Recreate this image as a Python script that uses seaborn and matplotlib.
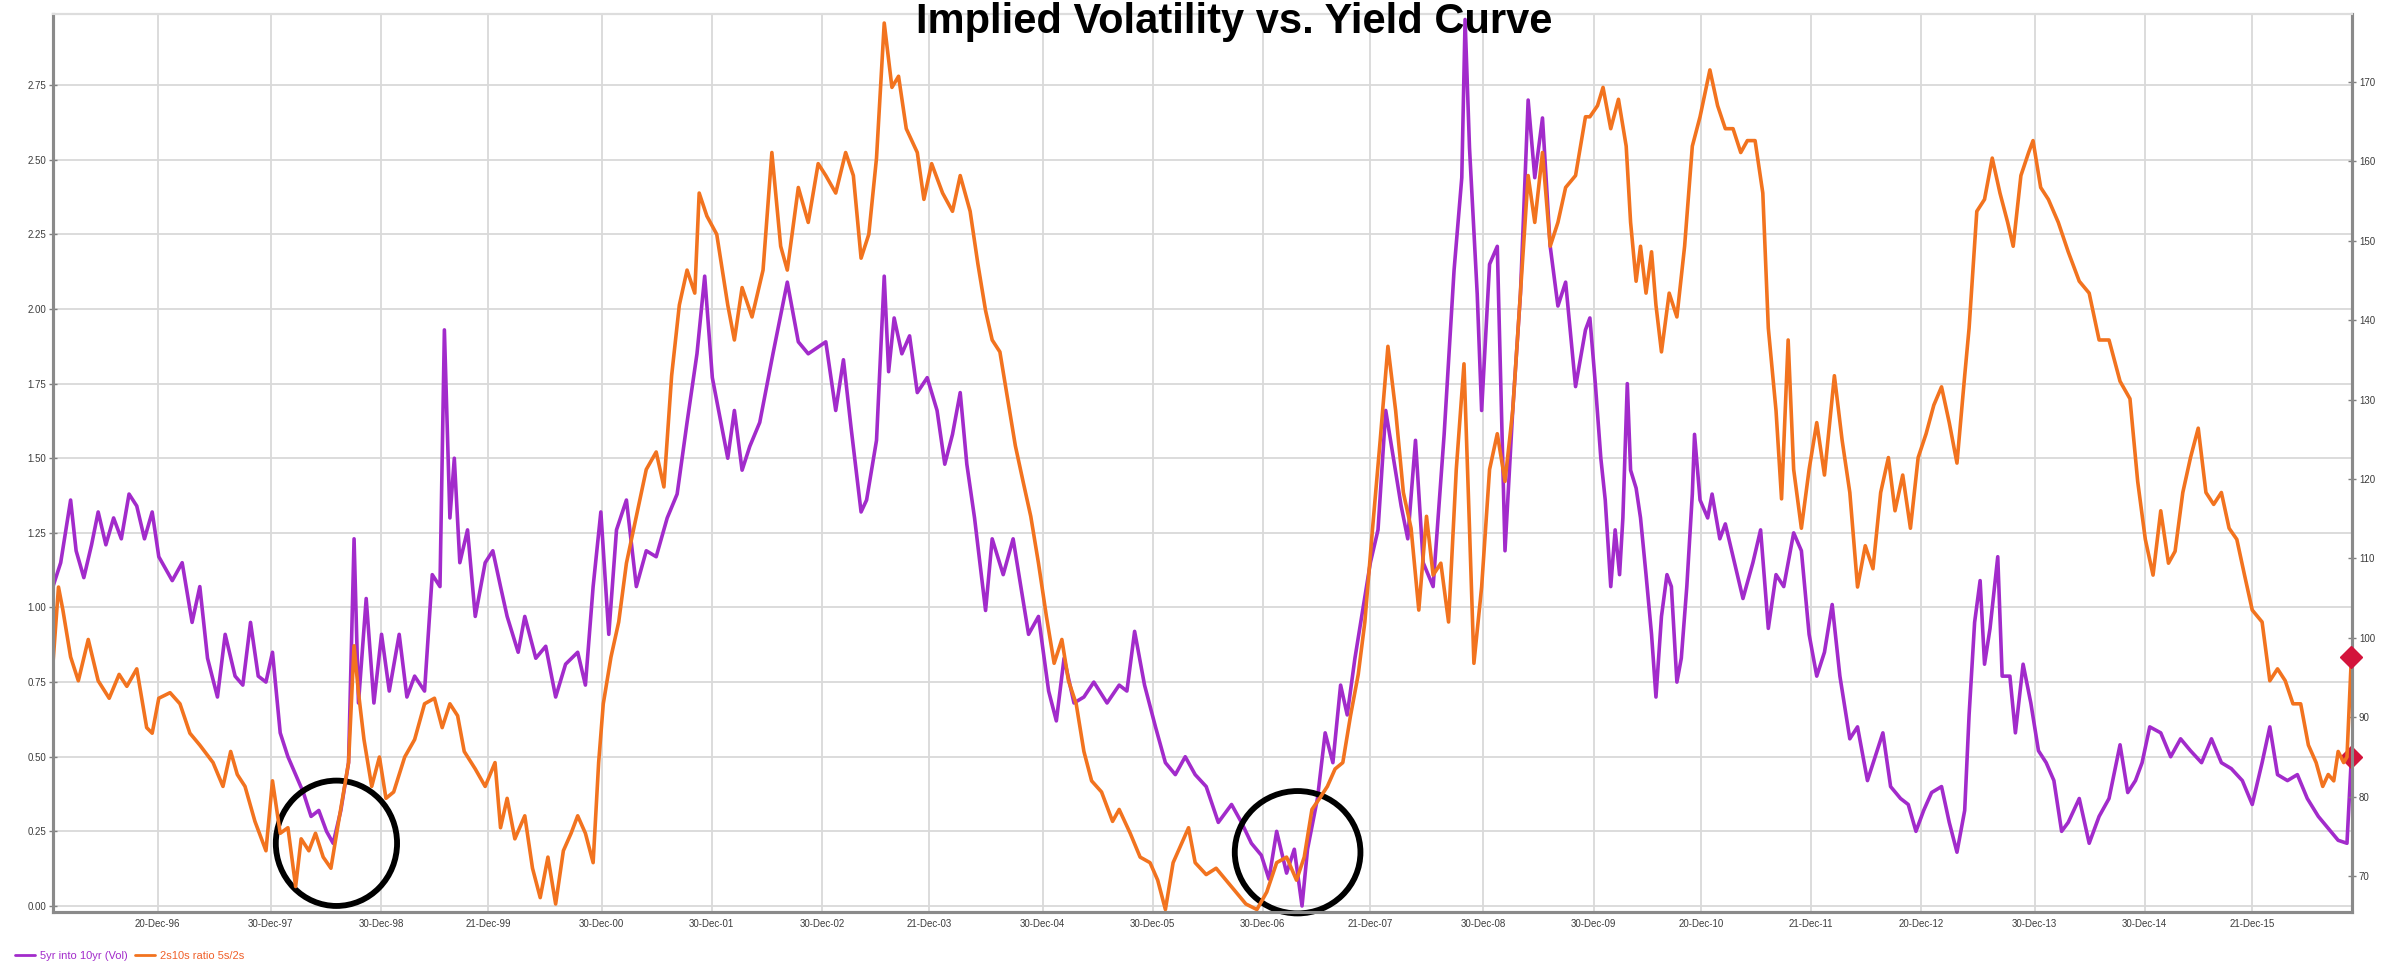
import pandas as pd
import numpy as np
import matplotlib
matplotlib.use("Agg")
import matplotlib.pyplot as plt
import matplotlib.dates as mdates
from matplotlib.patches import Ellipse
from matplotlib.lines import Line2D
import seaborn as sns

# --- data (decimal years, values) ---
vol_years = [
    1996.02, 1996.09, 1996.18, 1996.23, 1996.30, 1996.37, 1996.43, 1996.50, 1996.57, 1996.64,
    1996.71, 1996.78, 1996.85, 1996.92, 1996.98, 1997.10, 1997.19, 1997.28, 1997.35, 1997.42,
    1997.51, 1997.58, 1997.67, 1997.74, 1997.81, 1997.88, 1997.95, 1998.01, 1998.08, 1998.15,
    1998.22, 1998.29, 1998.36, 1998.43, 1998.50, 1998.56, 1998.63, 1998.70, 1998.75, 1998.79,
    1998.86, 1998.93, 1999.00, 1999.07, 1999.16, 1999.23, 1999.30, 1999.39, 1999.46, 1999.53,
    1999.57, 1999.62, 1999.66, 1999.71, 1999.78, 1999.85, 1999.94, 2000.01, 2000.08, 2000.14,
    2000.24, 2000.30, 2000.40, 2000.49, 2000.58, 2000.67, 2000.78, 2000.85, 2000.92, 2000.99,
    2001.06, 2001.13, 2001.22, 2001.31, 2001.40, 2001.49, 2001.59, 2001.68, 2001.77, 2001.86,
    2001.93, 2002.00, 2002.14, 2002.20, 2002.27, 2002.34, 2002.43, 2002.55, 2002.68, 2002.78,
    2002.87,
    2003.03, 2003.12, 2003.19, 2003.26, 2003.35, 2003.40, 2003.49, 2003.56, 2003.60, 2003.65,
    2003.72, 2003.79, 2003.86, 2003.95, 2004.04, 2004.11, 2004.18, 2004.25, 2004.31, 2004.38,
    2004.48, 2004.54, 2004.64, 2004.73, 2004.80, 2004.87, 2004.96, 2005.05, 2005.12, 2005.19,
    2005.28, 2005.37, 2005.46, 2005.58, 2005.69, 2005.76, 2005.83, 2005.92, 2006.02, 2006.11,
    2006.20, 2006.29, 2006.38, 2006.48, 2006.59, 2006.71, 2006.80, 2006.89, 2006.98, 2007.05,
    2007.12, 2007.21, 2007.28, 2007.35, 2007.40, 2007.49, 2007.56, 2007.63, 2007.70, 2007.76,
    2007.83, 2007.90, 2007.97, 2008.04, 2008.11, 2008.18, 2008.25, 2008.31, 2008.38, 2008.45,
    2008.54, 2008.64, 2008.73, 2008.80, 2008.83, 2008.87, 2008.94, 2008.98, 2009.05, 2009.12,
    2009.19, 2009.26, 2009.33, 2009.40, 2009.46, 2009.53, 2009.60, 2009.67, 2009.74, 2009.83,
    2009.92,
    2009.96, 2010.01, 2010.06, 2010.10, 2010.15, 2010.19, 2010.23, 2010.26, 2010.30, 2010.33,
    2010.38, 2010.42, 2010.47, 2010.52, 2010.56, 2010.61, 2010.66, 2010.70, 2010.75, 2010.79,
    2010.84, 2010.89, 2010.91, 2010.96, 2011.03, 2011.07, 2011.14, 2011.19, 2011.26, 2011.35,
    2011.44, 2011.51, 2011.58, 2011.65, 2011.72, 2011.81, 2011.88, 2011.95, 2012.02, 2012.09,
    2012.16, 2012.23, 2012.32, 2012.39, 2012.48, 2012.55, 2012.62, 2012.69, 2012.78, 2012.85,
    2012.92, 2012.99, 2013.06, 2013.15, 2013.22, 2013.29, 2013.36, 2013.40, 2013.45, 2013.50,
    2013.54, 2013.59, 2013.66, 2013.70, 2013.77, 2013.82, 2013.89, 2013.96, 2014.03, 2014.10,
    2014.17, 2014.24, 2014.30, 2014.40, 2014.49, 2014.58, 2014.67, 2014.77, 2014.84, 2014.91,
    2014.97, 2015.04, 2015.14, 2015.23, 2015.32, 2015.41, 2015.51, 2015.60, 2015.69, 2015.78,
    2015.88, 2015.97, 2016.06, 2016.13, 2016.20, 2016.29, 2016.38, 2016.47, 2016.57, 2016.66,
    2016.75, 2016.83, 2016.87,
]
vol_values = [
    1.07, 1.15, 1.36, 1.19, 1.10, 1.21, 1.32, 1.21, 1.30, 1.23,
    1.38, 1.34, 1.23, 1.32, 1.17, 1.09, 1.15, 0.95, 1.07, 0.83,
    0.70, 0.91, 0.77, 0.74, 0.95, 0.77, 0.75, 0.85, 0.58, 0.50,
    0.44, 0.38, 0.30, 0.32, 0.25, 0.21, 0.32, 0.48, 1.23, 0.68,
    1.03, 0.68, 0.91, 0.72, 0.91, 0.70, 0.77, 0.72, 1.11, 1.07,
    1.93, 1.30, 1.50, 1.15, 1.26, 0.97, 1.15, 1.19, 1.07, 0.97,
    0.85, 0.97, 0.83, 0.87, 0.70, 0.81, 0.85, 0.74, 1.07, 1.32,
    0.91, 1.26, 1.36, 1.07, 1.19, 1.17, 1.30, 1.38, 1.62, 1.85,
    2.11, 1.77, 1.50, 1.66, 1.46, 1.54, 1.62, 1.85, 2.09, 1.89,
    1.85,
    1.89, 1.66, 1.83, 1.60, 1.32, 1.36, 1.56, 2.11, 1.79, 1.97,
    1.85, 1.91, 1.72, 1.77, 1.66, 1.48, 1.58, 1.72, 1.48, 1.30,
    0.99, 1.23, 1.11, 1.23, 1.07, 0.91, 0.97, 0.72, 0.62, 0.83,
    0.68, 0.70, 0.75, 0.68, 0.74, 0.72, 0.92, 0.74, 0.60, 0.48,
    0.44, 0.50, 0.44, 0.40, 0.28, 0.34, 0.28, 0.21, 0.17, 0.09,
    0.25, 0.11, 0.19, 0.00, 0.19, 0.36, 0.58, 0.48, 0.74, 0.64,
    0.83, 0.99, 1.15, 1.26, 1.66, 1.50, 1.34, 1.23, 1.56, 1.15,
    1.07, 1.58, 2.13, 2.44, 2.97, 2.54, 2.05, 1.66, 2.15, 2.21,
    1.19, 1.66, 2.05, 2.70, 2.44, 2.64, 2.21, 2.01, 2.09, 1.74,
    1.93,
    1.97, 1.75, 1.50, 1.36, 1.07, 1.26, 1.11, 1.30, 1.75, 1.46,
    1.40, 1.30, 1.11, 0.91, 0.70, 0.97, 1.11, 1.07, 0.75, 0.83,
    1.07, 1.38, 1.58, 1.36, 1.30, 1.38, 1.23, 1.28, 1.17, 1.03,
    1.15, 1.26, 0.93, 1.11, 1.07, 1.25, 1.19, 0.91, 0.77, 0.85,
    1.01, 0.77, 0.56, 0.60, 0.42, 0.50, 0.58, 0.40, 0.36, 0.34,
    0.25, 0.32, 0.38, 0.40, 0.28, 0.18, 0.32, 0.64, 0.95, 1.09,
    0.81, 0.93, 1.17, 0.77, 0.77, 0.58, 0.81, 0.68, 0.52, 0.48,
    0.42, 0.25, 0.28, 0.36, 0.21, 0.30, 0.36, 0.54, 0.38, 0.42,
    0.48, 0.60, 0.58, 0.50, 0.56, 0.52, 0.48, 0.56, 0.48, 0.46,
    0.42, 0.34, 0.48, 0.60, 0.44, 0.42, 0.44, 0.36, 0.30, 0.26,
    0.22, 0.21, 0.50,
]

ratio_years = [
    1996.02, 1996.07, 1996.11, 1996.18, 1996.25, 1996.34, 1996.43, 1996.53, 1996.62, 1996.69,
    1996.78, 1996.87, 1996.92, 1996.98, 1997.08, 1997.17, 1997.26, 1997.35, 1997.47, 1997.56,
    1997.63, 1997.69, 1997.76, 1997.85, 1997.95, 1998.01, 1998.08, 1998.15, 1998.22, 1998.27,
    1998.34, 1998.40, 1998.47, 1998.54, 1998.61, 1998.70, 1998.75, 1998.79, 1998.84, 1998.91,
    1998.98, 1999.04, 1999.11, 1999.21, 1999.30, 1999.39, 1999.48, 1999.55, 1999.62, 1999.69,
    1999.75, 1999.85, 1999.94, 2000.03, 2000.08, 2000.14, 2000.21, 2000.30, 2000.37, 2000.44,
    2000.51, 2000.58, 2000.65, 2000.72, 2000.78, 2000.85, 2000.92, 2000.97, 2001.01, 2001.08,
    2001.15, 2001.22, 2001.31, 2001.40, 2001.49, 2001.56, 2001.63, 2001.70, 2001.77, 2001.84,
    2001.88, 2001.95, 2002.04, 2002.14, 2002.20, 2002.27, 2002.36, 2002.46, 2002.54, 2002.62,
    2002.68, 2002.78, 2002.87, 2002.96,
    2003.03, 2003.12, 2003.21, 2003.28, 2003.35, 2003.42, 2003.49, 2003.56, 2003.63, 2003.69,
    2003.76, 2003.86, 2003.92, 2003.99, 2004.09, 2004.18, 2004.25, 2004.34, 2004.41, 2004.48,
    2004.54, 2004.61, 2004.68, 2004.75, 2004.82, 2004.89, 2004.96, 2005.03, 2005.10, 2005.17,
    2005.23, 2005.30, 2005.37, 2005.44, 2005.53, 2005.63, 2005.69, 2005.79, 2005.88, 2005.97,
    2006.04, 2006.11, 2006.18, 2006.25, 2006.32, 2006.38, 2006.48, 2006.57, 2006.66, 2006.75,
    2006.84, 2006.94, 2007.03, 2007.12, 2007.21, 2007.30, 2007.37, 2007.44, 2007.51, 2007.58,
    2007.65, 2007.72, 2007.79, 2007.86, 2007.92, 2007.99, 2008.06, 2008.13, 2008.20, 2008.27,
    2008.34, 2008.41, 2008.48, 2008.54, 2008.61, 2008.68, 2008.75, 2008.82, 2008.87, 2008.91,
    2008.98, 2009.05, 2009.12, 2009.19, 2009.26, 2009.33, 2009.40, 2009.46, 2009.53, 2009.60,
    2009.67, 2009.74, 2009.83, 2009.92,
    2009.96, 2010.03, 2010.08, 2010.15, 2010.22, 2010.29, 2010.33, 2010.38, 2010.42, 2010.47,
    2010.52, 2010.56, 2010.61, 2010.68, 2010.75, 2010.82, 2010.89, 2010.96, 2011.05, 2011.12,
    2011.19, 2011.26, 2011.33, 2011.39, 2011.46, 2011.53, 2011.58, 2011.65, 2011.70, 2011.76,
    2011.81, 2011.88, 2011.95, 2012.02, 2012.09, 2012.18, 2012.25, 2012.32, 2012.39, 2012.46,
    2012.53, 2012.60, 2012.67, 2012.73, 2012.80, 2012.87, 2012.94, 2013.01, 2013.08, 2013.15,
    2013.22, 2013.29, 2013.36, 2013.40, 2013.47, 2013.54, 2013.61, 2013.68, 2013.75, 2013.80,
    2013.87, 2013.94, 2013.98, 2014.05, 2014.12, 2014.21, 2014.30, 2014.40, 2014.49, 2014.58,
    2014.67, 2014.77, 2014.86, 2014.93, 2015.00, 2015.07, 2015.14, 2015.21, 2015.27, 2015.34,
    2015.41, 2015.48, 2015.55, 2015.62, 2015.69, 2015.76, 2015.83, 2015.90, 2015.97, 2016.06,
    2016.13, 2016.20, 2016.27, 2016.34, 2016.41, 2016.48, 2016.55, 2016.61, 2016.66, 2016.71,
    2016.75, 2016.80, 2016.83, 2016.87,
]
ratio_values = [
    96.8, 106.4, 103.5, 97.6, 94.6, 99.8, 94.6, 92.4, 95.4, 93.9,
    96.1, 88.7, 88.0, 92.4, 93.1, 91.7, 88.0, 86.5, 84.3, 81.3,
    85.7, 82.8, 81.3, 76.9, 73.2, 82.0, 75.4, 76.1, 68.7, 74.7,
    73.2, 75.4, 72.4, 71.0, 76.9, 84.3, 99.0, 93.1, 87.2, 81.3,
    85.0, 79.8, 80.6, 85.0, 87.2, 91.7, 92.4, 88.7, 91.7, 90.2,
    85.7, 83.5, 81.3, 84.3, 76.1, 79.8, 74.7, 77.6, 71.0, 67.3,
    72.4, 66.5, 73.2, 75.4, 77.6, 75.4, 71.7, 84.3, 91.7, 97.6,
    102.0, 109.4, 115.3, 121.2, 123.4, 119.0, 133.0, 141.9, 146.3, 143.4,
    156.0, 153.1, 150.8, 141.9, 137.5, 144.1, 140.4, 146.3, 161.1, 149.3,
    146.3, 156.7, 152.3, 159.7,
    158.2, 156.0, 161.1, 158.2, 147.8, 150.8, 160.4, 177.4, 169.3, 170.7,
    164.1, 161.1, 155.2, 159.7, 156.0, 153.7, 158.2, 153.7, 147.1, 141.2,
    137.5, 136.0, 130.1, 124.2, 119.7, 115.3, 109.4, 102.7, 96.8, 99.8,
    94.6, 91.7, 85.7, 82.0, 80.6, 76.9, 78.4, 75.4, 72.4, 71.7,
    69.5, 65.8, 71.7, 73.9, 76.1, 71.7, 70.2, 71.0, 69.5, 68.0,
    66.5, 65.8, 68.0, 71.7, 72.4, 69.5, 72.4, 78.4, 79.8, 81.3,
    83.5, 84.3, 90.2, 95.4, 102.0, 113.8, 124.9, 136.7, 128.6, 118.3,
    113.8, 103.5, 115.3, 107.9, 109.4, 102.0, 121.2, 134.5, 113.8, 96.8,
    106.4, 121.2, 125.7, 119.7, 128.6, 143.4, 158.2, 152.3, 161.1, 149.3,
    152.3, 156.7, 158.2, 165.6,
    165.6, 167.0, 169.3, 164.1, 167.8, 161.9, 152.3, 144.9, 149.3, 143.4,
    148.6, 141.9, 136.0, 143.4, 140.4, 149.3, 161.9, 165.6, 171.5, 167.0,
    164.1, 164.1, 161.1, 162.6, 162.6, 156.0, 139.0, 128.6, 117.5, 137.5,
    121.2, 113.8, 121.2, 127.1, 120.5, 133.0, 124.9, 118.3, 106.4, 111.6,
    108.7, 118.3, 122.7, 116.0, 120.5, 113.8, 122.7, 125.7, 129.3, 131.6,
    127.1, 122.0, 133.0, 139.0, 153.7, 155.2, 160.4, 156.0, 152.3, 149.3,
    158.2, 161.1, 162.6, 156.7, 155.2, 152.3, 148.6, 144.9, 143.4, 137.5,
    137.5, 132.3, 130.1, 119.7, 112.4, 107.9, 116.0, 109.4, 110.9, 118.3,
    122.7, 126.4, 118.3, 116.8, 118.3, 113.8, 112.4, 107.9, 103.5, 102.0,
    94.6, 96.1, 94.6, 91.7, 91.7, 86.5, 84.3, 81.3, 82.8, 82.0,
    85.7, 84.3, 85.0, 97.6,
]

tick_dates = ["1996-12-20", "1997-12-30", "1998-12-30", "1999-12-21", "2000-12-30",
              "2001-12-30", "2002-12-30", "2003-12-21", "2004-12-30", "2005-12-30",
              "2006-12-30", "2007-12-21", "2008-12-30", "2009-12-30", "2010-12-20",
              "2011-12-21", "2012-12-20", "2013-12-30", "2014-12-30", "2015-12-21"]
tick_labels = ["20-Dec-96", "30-Dec-97", "30-Dec-98", "21-Dec-99", "30-Dec-00",
               "30-Dec-01", "30-Dec-02", "21-Dec-03", "30-Dec-04", "30-Dec-05",
               "30-Dec-06", "21-Dec-07", "30-Dec-08", "30-Dec-09", "20-Dec-10",
               "21-Dec-11", "20-Dec-12", "30-Dec-13", "30-Dec-14", "21-Dec-15"]

title = "Implied Volatility vs. Yield Curve"
vol_label = "5yr into 10yr (Vol)"
ratio_label = "2s10s ratio 5s/2s"

PURPLE = "#A22BCB"
ORANGE = "#F2731F"
DIAMOND = "#D3143C"


def to_dates(years):
    return [pd.Timestamp(year=int(y), month=1, day=1) + pd.Timedelta(days=(y - int(y)) * 365.25)
            for y in years]


vol_df = pd.DataFrame({"date": to_dates(vol_years), "value": vol_values})
ratio_df = pd.DataFrame({"date": to_dates(ratio_years), "value": ratio_values})

sns.set_style("white")
plt.rcParams["font.family"] = ["Liberation Sans", "DejaVu Sans"]

fig = plt.figure(figsize=(23.97, 9.65), dpi=100)
ax = fig.add_axes([0.0221, 0.055, 0.9591, 0.931])
ax2 = ax.twinx()

sns.lineplot(data=vol_df, x="date", y="value", ax=ax, color=PURPLE, linewidth=2.6)
sns.lineplot(data=ratio_df, x="date", y="value", ax=ax2, color=ORANGE, linewidth=2.6)

# end-of-series markers
ax.plot(vol_df["date"].iloc[-1], vol_df["value"].iloc[-1], marker="D", color=DIAMOND,
        markersize=11, clip_on=False, zorder=6)
ax2.plot(ratio_df["date"].iloc[-1], ratio_df["value"].iloc[-1], marker="D", color=DIAMOND,
         markersize=11, clip_on=False, zorder=6)

x0 = to_dates([1996.02])[0]
x1 = to_dates([2016.875])[0]
ax.set_xlim(x0, x1)
ax.set_ylim(-0.02, 2.99)
ax2.set_ylim(65.5, 178.6)

ax.set_yticks(np.arange(0, 2.76, 0.25))
ax.set_yticklabels([f"{v:.2f}" for v in np.arange(0, 2.76, 0.25)])
ax2.set_yticks(np.arange(70, 171, 10))
ax.set_xticks(pd.to_datetime(tick_dates))
ax.set_xticklabels(tick_labels)

ax.grid(True, color="#D9D9D9", linewidth=1.3)
ax2.grid(False)
ax.set_axisbelow(True)

for a in (ax, ax2):
    a.set_xlabel("")
    a.set_ylabel("")
    a.tick_params(axis="both", labelsize=7, labelcolor="#3C3C3C", direction="inout",
                  length=6, width=1, color="#808080", pad=2)
    for side in ("left", "bottom", "right"):
        a.spines[side].set_color("#8A8A8A")
        a.spines[side].set_linewidth(2.2)
    a.spines["top"].set_color("#DDDDDD")
    a.spines["top"].set_linewidth(1.5)

# circled lows
for cx, cy, w, h in [(1998.59, 0.21, 1.10, 0.42), (2007.31, 0.18, 1.14, 0.41)]:
    centre = mdates.date2num(to_dates([cx])[0])
    ax.add_patch(Ellipse((centre, cy), w * 365.25, h, fill=False, edgecolor="black",
                         linewidth=4.2, clip_on=False, zorder=7))

fig.text(0.515, 0.998, title, ha="center", va="top", fontsize=30,
         fontweight="bold", color="black", zorder=10)

handles = [Line2D([], [], color=PURPLE, linewidth=2), Line2D([], [], color=ORANGE, linewidth=2)]
leg = fig.legend(handles, [vol_label, ratio_label], loc="lower left",
                 bbox_to_anchor=(0.002, -0.006), ncol=2, frameon=False, fontsize=8,
                 handlelength=1.8, handletextpad=0.5, columnspacing=0.6)
for txt, col in zip(leg.get_texts(), [PURPLE, "#F0602A"]):
    txt.set_color(col)

fig.savefig("out.png", dpi=100)
